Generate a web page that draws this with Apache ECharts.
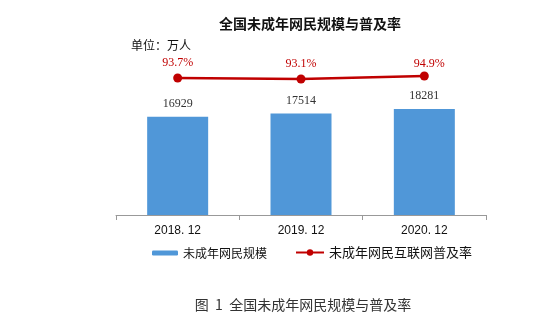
<!DOCTYPE html>
<html><head><meta charset="utf-8">
<script src="https://cdn.jsdelivr.net/npm/echarts@6/dist/echarts.min.js"></script>
<style>html,body{margin:0;padding:0;background:#fff}#c{width:553px;height:325px}</style>
</head><body><div id="c"></div>
<script>
const categories = ['2018. 12', '2019. 12', '2020. 12'];
const userCounts = [16929, 17514, 18281];
const penetration = [93.7, 93.1, 94.9];
const barName = '未成年网民规模';
const lineName = '未成年网民互联网普及率';

const chart = echarts.init(document.getElementById('c'));
chart.setOption({
  animation: false,
  backgroundColor: '#fff',
  title: [
    {text: '全国未成年网民规模与普及率', left: 305, textAlign: 'center', top: 12,
     textStyle: {fontSize: 14, fontWeight: 'bold', color: '#111', fontFamily: 'Noto Sans CJK SC'}},
    {text: '单位：万人', left: 126, top: 34,
     textStyle: {fontSize: 12, fontWeight: 'normal', color: '#111', fontFamily: 'Noto Sans CJK SC'}},
    {text: '图  1  全国未成年网民规模与普及率', left: 298, textAlign: 'center', top: 293,
     textStyle: {fontSize: 14, fontWeight: 'normal', color: '#333', fontFamily: 'Noto Sans CJK SC'}}
  ],
  legend: [
    {data: [barName], left: 147, top: 242, itemWidth: 26, itemHeight: 5, itemGap: 10,
     textStyle: {fontSize: 12, color: '#111', fontFamily: 'Noto Sans CJK SC'}},
    {data: [lineName], left: 290, top: 241, itemWidth: 28, itemHeight: 8,
     textStyle: {fontSize: 13, color: '#111', fontFamily: 'Noto Sans CJK SC'}}
  ],
  grid: {left: 116, right: 67, top: 75, bottom: 110},
  xAxis: {
    type: 'category', data: categories,
    axisLine: {lineStyle: {color: '#999', width: 1}},
    axisTick: {show: true, length: 5, lineStyle: {color: '#999'}},
    axisLabel: {fontSize: 12, color: '#111', margin: 10, fontFamily: 'Liberation Sans'}
  },
  yAxis: [
    {type: 'value', min: 0, max: 24150, show: false, splitLine: {show: false}},
    {type: 'value', min: 11.7, max: 95.5, show: false, splitLine: {show: false}}
  ],
  series: [
    {name: barName, type: 'bar', data: userCounts, barWidth: 61,
     itemStyle: {color: '#5097d8'},
     label: {show: true, position: 'top', distance: 7, fontSize: 12, color: '#333',
             fontFamily: 'Liberation Serif'}},
    {name: lineName, type: 'line', yAxisIndex: 1,
     data: penetration.map((v, i) => ({value: v, label: {offset: i === 2 ? [5, 3] : [0, 0]}})),
     symbol: 'circle', symbolSize: 9,
     lineStyle: {color: '#c00000', width: 2.5}, itemStyle: {color: '#c00000'},
     label: {show: true, position: 'top', distance: 5, fontSize: 12, color: '#c00000',
             fontFamily: 'Liberation Serif', formatter: p => p.value + '%'}}
  ]
});
</script></body></html>
